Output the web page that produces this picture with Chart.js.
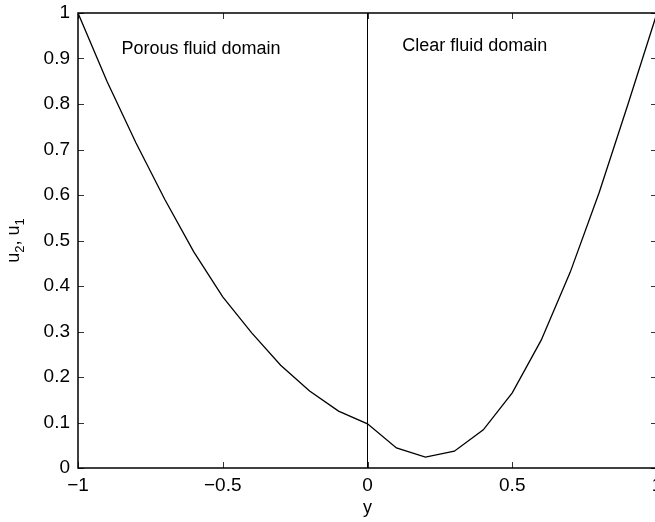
<!DOCTYPE html>
<html>
<head>
<meta charset="utf-8">
<script src="https://cdn.jsdelivr.net/npm/chart.js@4.4.0/dist/chart.umd.min.js"></script>
<style>
  html, body { margin: 0; padding: 0; background: #fff; overflow: hidden; }
  #wrap { width: 665px; height: 522px; }
</style>
</head>
<body>
<div id="wrap"><canvas id="grafico" width="665" height="522"></canvas></div>
<script>
  const posicoesY = [-1, -0.9, -0.8, -0.7, -0.6, -0.5, -0.4, -0.3, -0.2, -0.1, 0,
                     0.1, 0.2, 0.3, 0.4, 0.5, 0.6, 0.7, 0.8, 0.9, 1];
  const velocidades = [1.0, 0.85, 0.715, 0.59, 0.475, 0.376, 0.297, 0.226, 0.169, 0.125, 0.097,
                       0.044, 0.024, 0.037, 0.084, 0.165, 0.281, 0.43, 0.605, 0.80, 1.0];
  const interface_ = [{ x: 0, y: 0 }, { x: 0, y: 1 }];
  const ticksX = [-1, -0.5, 0, 0.5, 1];
  const ticksU = [0, 0.1, 0.2, 0.3, 0.4, 0.5, 0.6, 0.7, 0.8, 0.9, 1];
  const rotulos = [
    { texto: "Porous fluid domain", x: -0.85, y: 0.92 },
    { texto: "Clear fluid domain", x: 0.12, y: 0.927 }
  ];

  const fonte = '"Liberation Sans", Arial, Helvetica, sans-serif';

  const moldura = {
    id: "moldura",
    afterDraw(chart) {
      const ctx = chart.ctx;
      const a = chart.chartArea;
      const sx = chart.scales.x, sy = chart.scales.y;
      ctx.save();
      // marcas internas
      ctx.strokeStyle = "#333";
      ctx.lineWidth = 1;
      ctx.beginPath();
      ticksX.forEach(v => {
        const px = Math.round(sx.getPixelForValue(v)) + 0.5;
        ctx.moveTo(px, a.bottom); ctx.lineTo(px, a.bottom - 6);
        ctx.moveTo(px, a.top); ctx.lineTo(px, a.top + 6);
      });
      ticksU.forEach(v => {
        const py = Math.round(sy.getPixelForValue(v)) + 0.5;
        ctx.moveTo(a.left, py); ctx.lineTo(a.left + 6, py);
        ctx.moveTo(a.right, py); ctx.lineTo(a.right - 6, py);
      });
      ctx.stroke();
      // caixa
      ctx.strokeStyle = "#000";
      ctx.lineWidth = 1.5;
      ctx.strokeRect(a.left, a.top, a.right - a.left, a.bottom - a.top);
      // textos
      ctx.fillStyle = "#000";
      ctx.font = "18px " + fonte;
      ctx.textBaseline = "middle";
      ctx.textAlign = "left";
      rotulos.forEach(r => {
        ctx.fillText(r.texto, sx.getPixelForValue(r.x), sy.getPixelForValue(r.y));
      });
      // titulo eixo x
      ctx.textAlign = "center";
      ctx.textBaseline = "alphabetic";
      ctx.fillText("y", sx.getPixelForValue(0), 513);
      // titulo eixo y: u2, u1 com subscritos
      ctx.translate(19, (a.top + a.bottom) / 2);
      ctx.rotate(-Math.PI / 2);
      const partes = [["u", false], ["2", true], [", u", false], ["1", true]];
      let total = 0;
      partes.forEach(p => {
        ctx.font = (p[1] ? "13px " : "18px ") + fonte;
        total += ctx.measureText(p[0]).width;
      });
      let cx = -total / 2;
      ctx.textAlign = "left";
      partes.forEach(p => {
        ctx.font = (p[1] ? "13px " : "18px ") + fonte;
        ctx.fillText(p[0], cx, p[1] ? 5 : 0);
        cx += ctx.measureText(p[0]).width;
      });
      ctx.restore();
    }
  };

  new Chart(document.getElementById("grafico"), {
    type: "line",
    data: {
      datasets: [{
        data: posicoesY.map((x, i) => ({ x: x, y: velocidades[i] })),
        borderColor: "#000",
        borderWidth: 1.3,
        pointRadius: 0,
        tension: 0,
        fill: false
      }, {
        data: interface_,
        borderColor: "#000",
        borderWidth: 1,
        pointRadius: 0,
        fill: false
      }]
    },
    options: {
      responsive: false,
      animation: false,
      layout: { padding: { top: 13, right: 8, left: 0, bottom: 0 } },
      plugins: {
        legend: { display: false },
        tooltip: { enabled: false }
      },
      scales: {
        x: {
          type: "linear",
          min: -1, max: 1,
          afterFit: s => { s.height = 54; s.paddingLeft = 0; s.paddingRight = 0; },
          afterBuildTicks: s => { s.ticks = ticksX.map(v => ({ value: v })); },
          grid: { display: false, drawTicks: false },
          border: { display: false },
          ticks: {
            color: "#000",
            padding: 6,
            font: { family: fonte, size: 19 },
            callback: v => String(v).replace("-", "\u2212")
          }
        },
        y: {
          type: "linear",
          min: 0, max: 1,
          afterFit: s => { s.width = 78; s.paddingTop = 0; s.paddingBottom = 0; },
          afterBuildTicks: s => { s.ticks = ticksU.map(v => ({ value: v })); },
          grid: { display: false, drawTicks: false },
          border: { display: false },
          ticks: {
            color: "#000",
            padding: 8,
            font: { family: fonte, size: 19 },
            callback: v => String(Math.round(v * 10) / 10)
          }
        }
      }
    },
    plugins: [moldura]
  });
</script>
</body>
</html>
